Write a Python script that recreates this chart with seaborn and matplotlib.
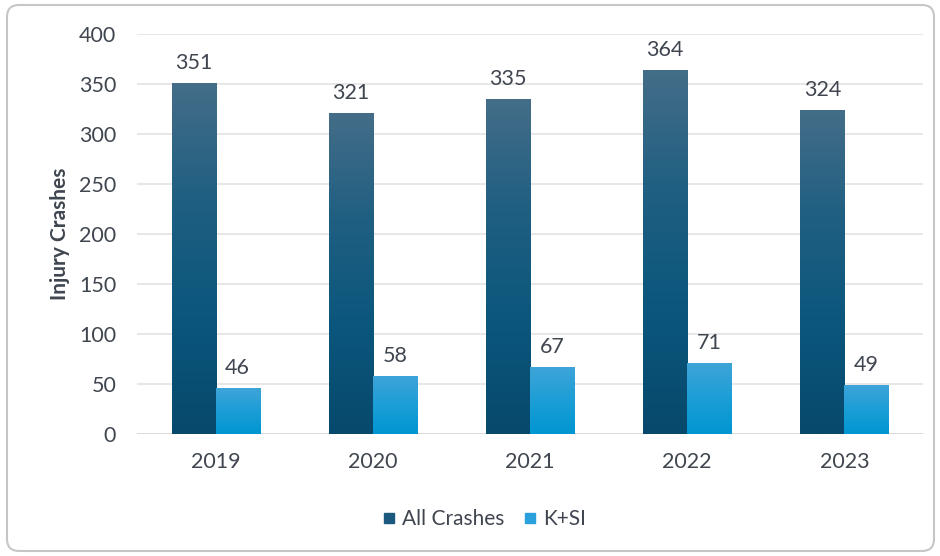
import numpy as np
import pandas as pd
import matplotlib
matplotlib.use("Agg")
import matplotlib.pyplot as plt
import seaborn as sns
from matplotlib.colors import LinearSegmentedColormap
from matplotlib.patches import FancyBboxPatch
from matplotlib.lines import Line2D

# ------------------- Data -------------------- #
years = ["2019", "2020", "2021", "2022", "2023"]
all_crashes = [351, 321, 335, 364, 324]
ksi = [46, 58, 67, 71, 49]
series_names = ["All Crashes", "K+SI"]

df = pd.DataFrame({
    "Year": years * 2,
    "Crashes": all_crashes + ksi,
    "Type": [series_names[0]] * len(years) + [series_names[1]] * len(years),
})

text_col = "#404650"
dark_cmap = LinearSegmentedColormap.from_list("dark", ["#07496c", "#0b567c", "#1f5f82", "#446d88"])
light_cmap = LinearSegmentedColormap.from_list("light", ["#0096d2", "#1c9ed6", "#3ea4d9"])

sns.set_style("white")
plt.rcParams["font.family"] = ["Lato", "DejaVu Sans"]

fig = plt.figure(figsize=(9.4, 5.56), dpi=100)
ax = fig.add_axes([137 / 940, 122 / 556, 786 / 940, 400 / 556])

sns.barplot(data=df, x="Year", y="Crashes", hue="Type", ax=ax,
            palette=["#0b567c", "#1c9ed6"], width=0.56, gap=0,
            legend=False, zorder=2)

ax.set_ylim(0, 400)
ax.set_yticks(range(0, 401, 50))
ax.yaxis.grid(True, color="#e3e3e3", lw=1.2, zorder=0)
ax.set_axisbelow(True)
xlim = ax.get_xlim()

# gradient fill on each bar
grad = np.linspace(0, 1, 256).reshape(-1, 1)
n = len(years)
for i, p in enumerate(ax.patches[: 2 * n]):
    x0, y0 = p.get_x(), p.get_y()
    w, h = p.get_width(), p.get_height()
    cmap = dark_cmap if i < n else light_cmap
    ax.imshow(grad, extent=[x0, x0 + w, y0, y0 + h], origin="lower",
              aspect="auto", cmap=cmap, zorder=3)
    p.set_edgecolor("none")

ax.set_xlim(xlim)
ax.set_ylim(0, 400)

# value labels
for container in ax.containers:
    ax.bar_label(container, padding=7, fontsize=15.5, color=text_col)

for s in ax.spines.values():
    s.set_visible(False)
ax.axhline(0, color="#d9d9d9", lw=1.2, zorder=1)
ax.tick_params(axis="both", length=0, labelsize=15.5, labelcolor=text_col)
ax.tick_params(axis="x", pad=13)
ax.tick_params(axis="y", pad=15)
ax.set_xlabel("")
ax.set_ylabel("Injury Crashes", fontsize=15, fontweight="bold", color=text_col, labelpad=6)

handles = [Line2D([], [], marker="s", ls="none", markersize=7.5, color="#1b5a7e"),
           Line2D([], [], marker="s", ls="none", markersize=7.5, color="#2aa0dc")]
fig.legend(handles, series_names, loc="center", bbox_to_anchor=(485 / 940, 1 - 519 / 556),
           ncol=2, frameon=False, fontsize=15, handlelength=0.5, handletextpad=0.35,
           columnspacing=1.0, labelcolor=text_col)

fig.patches.append(FancyBboxPatch((0.07, 0.05), 9.27, 5.46,
                                  boxstyle="round,pad=0,rounding_size=0.12",
                                  transform=fig.dpi_scale_trans, fc="none",
                                  ec="#c6c6c6", lw=1.5))

fig.savefig("out.png", dpi=100)
